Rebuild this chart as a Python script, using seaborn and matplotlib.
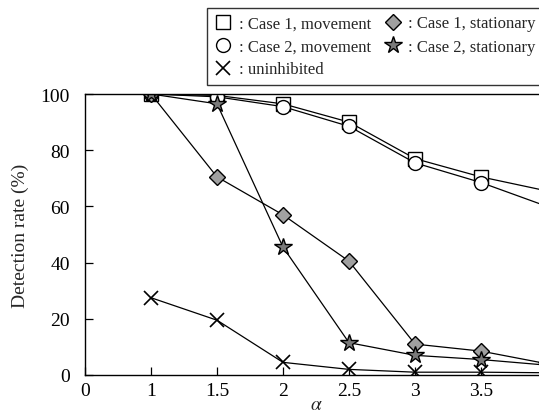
import matplotlib
matplotlib.use("Agg")
import matplotlib.pyplot as plt
import seaborn as sns
import pandas as pd
from matplotlib.lines import Line2D

alpha = [1, 1.5, 2, 2.5, 3, 3.5, 4]
case1_move = [100, 99.5, 96.5, 90, 77, 70.5, 65.5]
case2_move = [100, 99, 95.5, 88.5, 75.5, 68.5, 60]
case1_stat = [100, 70.5, 57, 40.5, 11, 8.5, 4]
case2_stat = [100, 96.5, 45.5, 11.5, 7, 5.5, 3.5]
uninhibited = [27.5, 19.5, 4.5, 2, 1, 1, 0.8]

labels = [": Case 1, movement", ": Case 2, movement", ": uninhibited",
          ": Case 1, stationary", ": Case 2, stationary"]
# the axis starts at 0.5, labelled "0"
xticks = [0.5, 1, 1.5, 2, 2.5, 3, 3.5]
xticklabels = ["0", "1", "1.5", "2", "2.5", "3", "3.5"]
yticks = [0, 20, 40, 60, 80, 100]

sns.set_style("ticks")
plt.rcParams['font.family'] = ['Liberation Serif', 'DejaVu Serif']
plt.rcParams['mathtext.fontset'] = 'stix'

W, H = 539, 414
fig = plt.figure(figsize=(W / 100, H / 100), dpi=100)
XR = 4.3
PX_PER_UNIT = 132.0
axw = (XR - 0.5) * PX_PER_UNIT
ax = fig.add_axes([85 / W, (414 - 376) / H, axw / W, (376 - 95) / H])

styles = [
    (case1_move, 's', 'white', 9.5),
    (case2_move, 'o', 'white', 10),
    (uninhibited, 'x', 'black', 9.5),
    (case1_stat, 'D', '#a0a0a0', 8),
    (case2_stat, '*', '#7a7a7a', 13),
]
handles = []
for vals, m, fc, ms in styles:
    df = pd.DataFrame({"alpha": alpha, "rate": vals})
    mew = 1.0 if m != 'x' else 1.2
    sns.lineplot(data=df, x="alpha", y="rate", ax=ax, color='black', lw=0.9,
                 marker=m, markersize=ms, markerfacecolor=fc,
                 markeredgecolor='black', markeredgewidth=mew)
    handles.append(Line2D([], [], ls='none', marker=m, markersize=ms,
                          markerfacecolor=fc, markeredgecolor='black',
                          markeredgewidth=mew))

ax.set_xlim(0.5, XR)
ax.set_ylim(0, 100)
ax.set_xticks(xticks)
ax.set_xticklabels(xticklabels)
ax.set_yticks(yticks)
ax.tick_params(direction='in', length=6, width=0.9, labelsize=14, colors='black')
ax.tick_params(axis='y', pad=11)
ax.tick_params(axis='x', pad=5)
for s in ax.spines.values():
    s.set_color('black')
    s.set_linewidth(1.0)
ax.set_xlabel(r"$\alpha$", fontsize=14)
ax.xaxis.set_label_coords((316 - 85) / axw, -0.075)
ax.set_ylabel("Detection rate (%)", fontsize=14, labelpad=8)

leg = fig.legend(handles, labels, ncol=2, loc='upper left',
                 bbox_to_anchor=(207 / W, 1 - 9 / H), frameon=True, fancybox=False,
                 edgecolor='black', fontsize=12, handlelength=1.0, handletextpad=0.45,
                 columnspacing=0.8, labelspacing=0.42, borderpad=0.45, borderaxespad=0)
leg.get_frame().set_linewidth(1.0)

fig.savefig("out.png", dpi=100)
